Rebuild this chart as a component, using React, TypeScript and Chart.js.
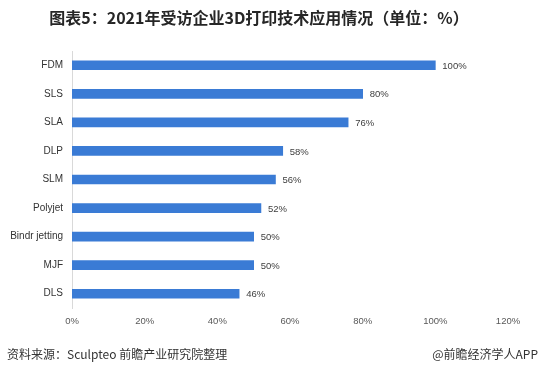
import React, { useEffect, useRef } from "react";
import { Chart, registerables } from "chart.js";

Chart.register(...registerables);

const categories = ["FDM", "SLS", "SLA", "DLP", "SLM", "Polyjet", "Bindr jetting", "MJF", "DLS"];
const values = [100, 80, 76, 58, 56, 52, 50, 50, 46];
const xTicks = [0, 20, 40, 60, 80, 100, 120];
const titleText = "图表5：2021年受访企业3D打印技术应用情况（单位：%）";
const sourceText = "资料来源：Sculpteo 前瞻产业研究院整理";
const creditText = "@前瞻经济学人APP";

const CJK = '"Noto Sans CJK SC", "Microsoft YaHei", sans-serif';
const LATIN = '"Liberation Sans", Arial, sans-serif';

const textPlugin = {
  id: "texts",
  afterDraw(chart: any) {
    const ctx = chart.ctx;
    ctx.save();
    ctx.fillStyle = "#262626";
    ctx.font = `bold 16px ${CJK}`;
    ctx.textAlign = "center";
    ctx.textBaseline = "middle";
    ctx.fillText(titleText, 259, 18);

    ctx.font = `12px ${CJK}`;
    ctx.fillStyle = "#333";
    ctx.textAlign = "left";
    ctx.fillText(sourceText, 7, 354);
    ctx.textAlign = "right";
    ctx.fillText(creditText, 538, 354);

    const meta = chart.getDatasetMeta(0);
    ctx.font = `9.5px ${LATIN}`;
    ctx.fillStyle = "#404040";
    ctx.textAlign = "left";
    meta.data.forEach((bar: any, i: number) => {
      ctx.fillText(values[i] + "%", bar.x + 7, bar.y + 1);
    });
    ctx.restore();
  },
};

export default function App() {
  const ref = useRef<HTMLCanvasElement>(null);
  useEffect(() => {
    if (!ref.current) return;
    const chart = new Chart(ref.current, {
      type: "bar",
      data: {
        labels: categories,
        datasets: [
          {
            data: values,
            backgroundColor: "#3a7bd5",
            barThickness: 9,
          },
        ],
      },
      options: {
        indexAxis: "y",
        animation: false,
        responsive: false,
        maintainAspectRatio: false,
        layout: { padding: { top: 51, right: 33, bottom: 0, left: 0 } },
        plugins: {
          legend: { display: false },
          tooltip: { enabled: false },
          title: { display: false },
        },
        scales: {
          x: {
            type: "linear",
            min: 0,
            max: 120,
            afterBuildTicks(scale: any) {
              scale.ticks = xTicks.map((v) => ({ value: v }));
            },
            afterFit(scale: any) {
              scale.height = 67;
            },
            grid: { display: false, drawTicks: false },
            border: { display: false },
            ticks: {
              padding: 8,
              color: "#595959",
              font: { family: LATIN, size: 9.5 },
              callback: (v: any) => v + "%",
            },
          },
          y: {
            type: "category",
            afterFit(scale: any) {
              scale.width = 72;
            },
            grid: { display: false, drawTicks: false },
            border: { display: true, color: "#d9d9d9", width: 1 },
            ticks: {
              padding: 9,
              color: "#333",
              font: { family: LATIN, size: 10 },
            },
          },
        },
      },
      plugins: [textPlugin],
    });
    return () => chart.destroy();
  }, []);
  return (
    <div style={{ position: "fixed", left: 0, top: 0, width: 541, height: 375, background: "#fff" }}>
      <canvas ref={ref} width={541} height={375} style={{ width: 541, height: 375 }} />
    </div>
  );
}
